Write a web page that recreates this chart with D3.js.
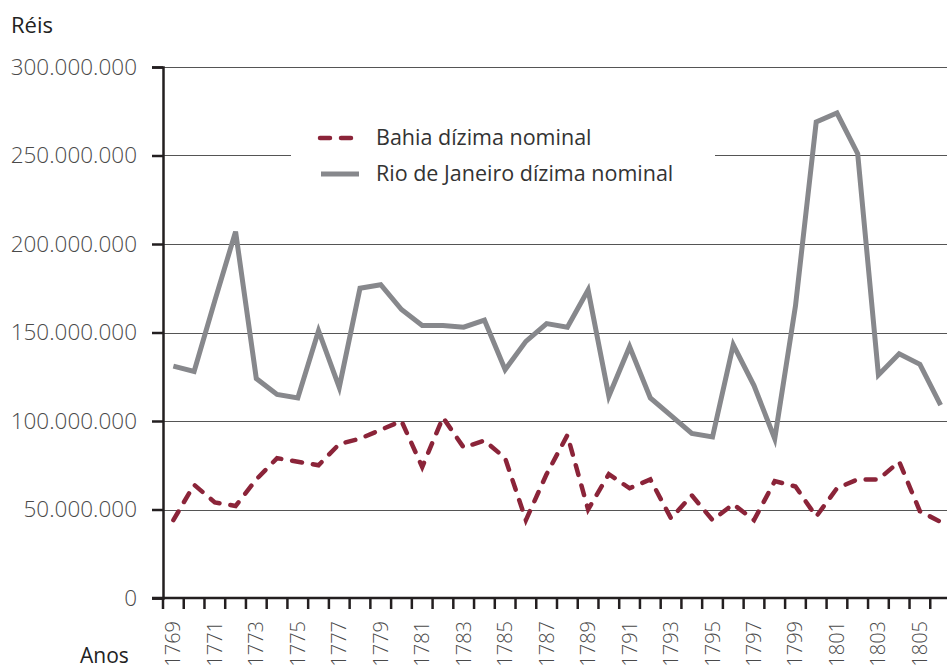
<html>
<head>
    <meta charset="utf-8">
    <title>Dizima</title>
    <script src="https://cdn.jsdelivr.net/npm/d3@7/dist/d3.min.js"></script>
    <style>
        body { margin: 0; background: #fff; }
        text { font-family: "Open Sans", "Noto Sans", sans-serif; }
    </style>
</head>
<body>
<script>
    // values in millions of réis
    var years = d3.range(1769, 1807);
    var bahia = [44, 64, 54, 52, 67, 79, 77, 75, 87, 90, 95, 100, 74, 102, 85, 89, 79, 44, 70, 92,
                 50, 70, 62, 67, 45, 58, 44, 53, 44, 66, 63, 46, 62, 67, 67, 77, 49, 43];
    var rio = [131, 128, 168, 207, 124, 115, 113, 151, 119, 175, 177, 163, 154, 154, 153, 157, 129, 145, 155, 153,
               174, 114, 142, 113, 103, 93, 91, 143, 120, 90, 165, 269, 274, 251, 126, 138, 132, 109];
    var yTicks = [0, 50, 100, 150, 200, 250, 300];
    var seriesNames = ["Bahia dízima nominal", "Rio de Janeiro dízima nominal"];

    var width = 947;
    var height = 672;
    var padding = {top: 67, right: -4, bottom: 74, left: 163};

    var svg = d3.select("body")
        .append("svg")
        .attr("width", width)
        .attr("height", height);

    var x = d3.scaleBand()
        .domain(years)
        .range([padding.left, width - padding.right]);

    var y = d3.scaleLinear()
        .domain([0, 300])
        .range([height - padding.bottom, padding.top]);

    var fmt = function(d){
        return d === 0 ? "0" : d3.format(",")(d * 1000000).replace(/,/g, ".");
    };

    // grid lines
    svg.append("g")
        .selectAll("line")
        .data(yTicks.filter(function(d){ return d > 0; }))
        .enter()
        .append("line")
        .attr("x1", padding.left)
        .attr("x2", width)
        .attr("y1", function(d){ return Math.round(y(d)) + 0.5; })
        .attr("y2", function(d){ return Math.round(y(d)) + 0.5; })
        .attr("stroke", "#555")
        .attr("stroke-width", 1);

    // y axis
    var yAxis = svg.append("g")
        .attr("transform", "translate(" + padding.left + ",0)")
        .call(d3.axisLeft(y).tickValues(yTicks).tickSize(11).tickPadding(15).tickFormat(fmt));
    yAxis.select(".domain").attr("stroke", "#231f20").attr("stroke-width", 2.5);
    yAxis.selectAll(".tick line").attr("stroke", "#231f20").attr("stroke-width", 2.5);
    yAxis.selectAll(".tick text")
        .attr("font-size", "22.5px")
        .attr("font-weight", 300)
        .attr("fill", "#4a4a4a");

    // x axis
    var baseY = y(0);
    var xAxis = svg.append("g");
    xAxis.append("line")
        .attr("x1", padding.left - 11)
        .attr("x2", width)
        .attr("y1", baseY)
        .attr("y2", baseY)
        .attr("stroke", "#231f20")
        .attr("stroke-width", 2.5);
    xAxis.selectAll(".xtick")
        .data(years)
        .enter()
        .append("line")
        .attr("class", "xtick")
        .attr("x1", function(d){ return x(d); })
        .attr("x2", function(d){ return x(d); })
        .attr("y1", baseY)
        .attr("y2", baseY + 11)
        .attr("stroke", "#231f20")
        .attr("stroke-width", 2.5);
    xAxis.selectAll(".xlabel")
        .data(years.filter(function(d){ return d % 2 === 1; }))
        .enter()
        .append("text")
        .attr("class", "xlabel")
        .attr("transform", function(d){
            return "translate(" + (x(d) + x.bandwidth() / 2 + 7) + "," + (baseY + 23) + ") rotate(-90)";
        })
        .attr("text-anchor", "end")
        .attr("font-size", "20px")
        .attr("font-weight", 300)
        .attr("fill", "#4a4a4a")
        .text(function(d){ return d; });

    // lines
    var lineGen = d3.line()
        .x(function(d, i){ return x(years[i]) + x.bandwidth() / 2; })
        .y(function(d){ return y(d); });

    svg.append("path")
        .datum(rio)
        .attr("d", lineGen)
        .attr("fill", "none")
        .attr("stroke", "#87888c")
        .attr("stroke-width", 5);

    svg.append("path")
        .datum(bahia)
        .attr("d", lineGen)
        .attr("fill", "none")
        .attr("stroke", "#8b2439")
        .attr("stroke-width", 4.5)
        .attr("stroke-linecap", "round")
        .attr("stroke-dasharray", "10,11");

    // legend
    var legend = svg.append("g");
    legend.append("rect")
        .attr("x", 291)
        .attr("y", 118)
        .attr("width", 424)
        .attr("height", 80)
        .attr("fill", "#fff");
    legend.append("line")
        .attr("x1", 320).attr("x2", 358)
        .attr("y1", 138).attr("y2", 138)
        .attr("stroke", "#8b2439")
        .attr("stroke-width", 4.5)
        .attr("stroke-linecap", "round")
        .attr("stroke-dasharray", "10,11");
    legend.append("line")
        .attr("x1", 321).attr("x2", 359)
        .attr("y1", 174).attr("y2", 174)
        .attr("stroke", "#87888c")
        .attr("stroke-width", 5);
    legend.selectAll("text")
        .data(seriesNames)
        .enter()
        .append("text")
        .attr("x", 376)
        .attr("y", function(d, i){ return 145 + i * 36; })
        .attr("font-size", "21.5px")
        .attr("fill", "#333")
        .text(function(d){ return d; });

    // axis titles
    svg.append("text")
        .attr("x", 11)
        .attr("y", 33)
        .attr("font-size", "22px")
        .attr("fill", "#222")
        .text("Réis");
    svg.append("text")
        .attr("x", 80)
        .attr("y", 663)
        .attr("font-size", "21px")
        .attr("fill", "#222")
        .text("Anos");
</script>
</body>
</html>
